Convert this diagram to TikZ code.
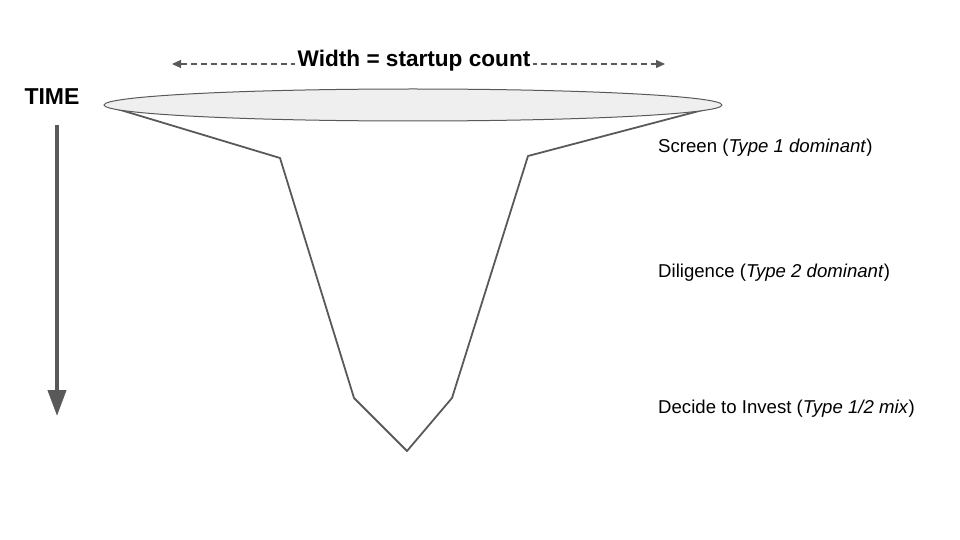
\documentclass[tikz,border=0pt]{standalone}
\usepackage{fontspec}
\setmainfont{Liberation Sans}
\usetikzlibrary{positioning, arrows.meta}
\definecolor{linegray}{HTML}{595959}
\definecolor{rimgray}{HTML}{EFEFEF}
\tikzset{
    stagelabel/.style={anchor=west, inner sep=0pt, font=\fontsize{18.6}{21}\selectfont},
}
\begin{document}
\begin{tikzpicture}[x=1pt, y=-1pt]
    \useasboundingbox (0,0) rectangle (960,540);
    % funnel body
    \draw[linegray, line width=1.8pt, line join=round]
        (104,105) -- (280,158) -- (354,398) -- (407,451)
        -- (452,398) -- (528,156) -- (718,106);
    \draw[linegray, line width=1pt, fill=rimgray] (413,105) ellipse (309 and 16);
    % width arrow
    \coordinate (wl) at (172,64);
    \coordinate (wr) at (665,64);
    \draw[linegray, line width=1.2pt, dash pattern=on 6pt off 4pt,
        {Triangle[width=8pt,length=9pt]}-{Triangle[width=8pt,length=9pt]}] (wl) -- (wr);
    \node[fill=white, inner sep=3pt, font=\bfseries\fontsize{22.6}{26}\selectfont]
        (width) at (414,61) {Width = startup count};
    % time axis
    \node[font=\bfseries\fontsize{23}{26}\selectfont] (time) at (52,97) {TIME};
    \coordinate (tt) at (57,125);
    \coordinate (tb) at (57,416);
    \draw[linegray, line width=4pt, -{Triangle[width=18pt,length=26pt]}] (tt) -- (tb);
    % stages
    \node[stagelabel] (screen) at (658,148) {Screen (\textit{Type 1 dominant})};
    \node[stagelabel] (diligence) at (658,273) {Diligence (\textit{Type 2 dominant})};
    \node[stagelabel] (invest) at (658,409) {Decide to Invest (\textit{Type 1/2 mix})};
\end{tikzpicture}
\end{document}
